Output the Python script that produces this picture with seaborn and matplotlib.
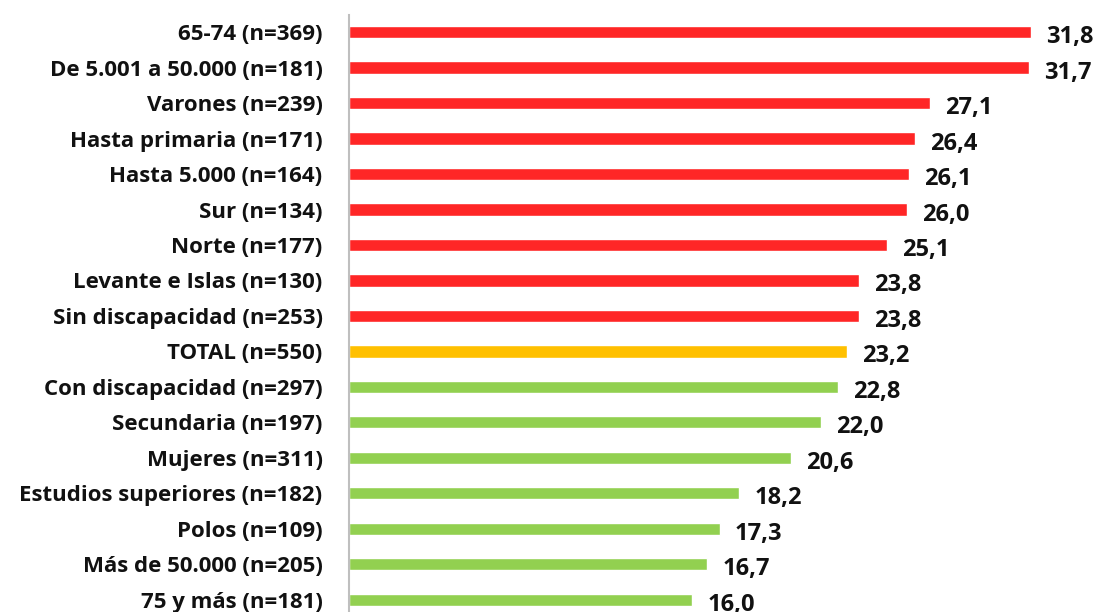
import matplotlib
matplotlib.use("Agg")
import matplotlib.pyplot as plt
import seaborn as sns
import pandas as pd

categories = [
    "65-74 (n=369)",
    "De 5.001 a 50.000 (n=181)",
    "Varones (n=239)",
    "Hasta primaria (n=171)",
    "Hasta 5.000 (n=164)",
    "Sur (n=134)",
    "Norte (n=177)",
    "Levante e Islas (n=130)",
    "Sin discapacidad (n=253)",
    "TOTAL (n=550)",
    "Con discapacidad (n=297)",
    "Secundaria (n=197)",
    "Mujeres (n=311)",
    "Estudios superiores (n=182)",
    "Polos (n=109)",
    "Más de 50.000 (n=205)",
    "75 y más (n=181)",
]
values = [31.8, 31.7, 27.1, 26.4, 26.1, 26.0, 25.1, 23.8, 23.8, 23.2,
          22.8, 22.0, 20.6, 18.2, 17.3, 16.7, 16.0]
groups = ["above"] * 9 + ["total"] + ["below"] * 7

group_colors = {"above": "#FF2626", "total": "#FFC000", "below": "#92D050"}

df = pd.DataFrame({"categoria": categories, "valor": values, "grupo": groups})

sns.set_theme(style="white")
plt.rcParams["font.family"] = ["Open Sans", "DejaVu Sans"]

fig = plt.figure(figsize=(10.96, 6.12), dpi=100)
ax = fig.add_axes([349 / 1096, 0.0, 1 - 349 / 1096, 1 - 15 / 612])

sns.barplot(data=df, y="categoria", x="valor", hue="grupo",
            palette=group_colors, orient="h", width=0.34, dodge=False,
            legend=False, ax=ax, saturation=1)

ax.set_xlim(0, 34.83)
ax.set_ylim(16.34, -0.48)
ax.set_xlabel("")
ax.set_ylabel("")
ax.set_xticks([])
for side in ["top", "right", "bottom"]:
    ax.spines[side].set_visible(False)
ax.spines["left"].set_color("#BFBFBF")
ax.spines["left"].set_linewidth(1.5)
ax.tick_params(axis="y", length=0, pad=19)
for lbl in ax.get_yticklabels():
    lbl.set_fontsize(16)
    lbl.set_fontweight("bold")
    lbl.set_color("#111111")

for i, v in enumerate(values):
    ax.annotate(f"{v:.1f}".replace(".", ","), xy=(v, i),
                xytext=(15, -5), textcoords="offset pixels",
                ha="left", va="center", fontsize=17, fontweight="bold",
                color="#111111")

fig.savefig("out.png", dpi=100)
